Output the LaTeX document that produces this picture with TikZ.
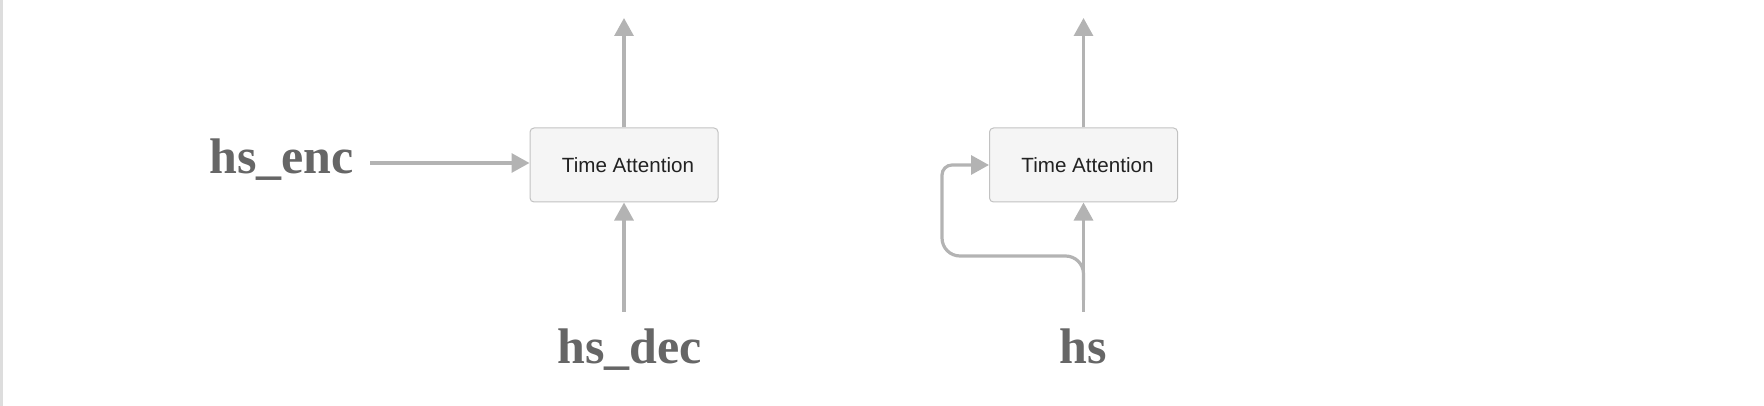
\documentclass[tikz,border=0pt]{standalone}
\usepackage{fontspec}
\newfontfamily\labelfont{Liberation Serif}
\newfontfamily\boxfont{Liberation Sans}
\usetikzlibrary{arrows.meta, positioning}
\definecolor{linegray}{HTML}{B3B3B3}
\definecolor{boxfill}{HTML}{F5F5F5}
\definecolor{boxline}{HTML}{C2C2C2}
\definecolor{labelgray}{HTML}{666666}
\definecolor{textdark}{HTML}{222222}
\definecolor{edgegray}{HTML}{DDDDDD}

\begin{document}
\begin{tikzpicture}[x=0.5pt, y=-0.5pt,
    attn/.style={rectangle, draw=boxline, fill=boxfill, line width=0.5pt, rounded corners=2pt, minimum width=94pt, minimum height=37pt, font=\boxfont\fontsize{10.3}{12}\selectfont, text=textdark},
    invar/.style={font=\labelfont\bfseries\fontsize{25}{29}\selectfont, text=labelgray, inner sep=8pt},
    arrow/.style={-{Triangle[width=9.5pt,length=9pt]}, line width=1.6pt, draw=linegray}
]
    \useasboundingbox (0,0) rectangle (1764,406);
    \fill[edgegray] (0,0) rectangle (3,406);

    % Attention blocks
    \node[attn] (att1) at (624,165) {\hspace*{4pt}Time Attention};
    \node[attn] (att2) at (1083.5,165) {\hspace*{4pt}Time Attention};

    % Inputs
    \node[invar, anchor=base west] (enc) at (193,174) {hs\_enc};
    \node[invar, anchor=base] (dec) at (629.5,363) {hs\_dec};
    \node[invar, anchor=base] (hs) at (1083.5,363) {hs};

    % Outputs
    \coordinate (out1) at (624,18);
    \coordinate (out2) at (1083.5,18);
    \coordinate (encrow) at (0,163);
    \coordinate (split) at (1083.5,300);
    \coordinate (loop) at (942,256);

    % Flows
    \draw[arrow] (enc.east |- encrow) -- (att1.west |- encrow);
    \draw[arrow] (dec.north -| att1.south) -- (att1.south);
    \draw[arrow] (att1.north) -- (out1);
    \draw[arrow] (hs.north) -- (att2.south);
    \draw[arrow] (att2.north) -- (out2);
    \draw[arrow] (split) [rounded corners=9pt] |- (loop) [rounded corners=5pt] |- (att2.west);

\end{tikzpicture}
\end{document}
